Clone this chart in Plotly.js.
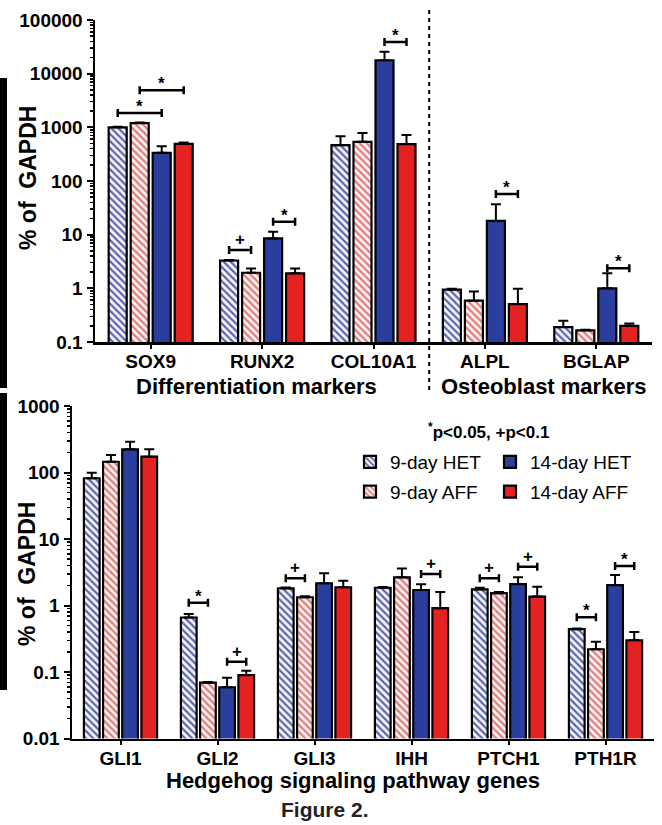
<!DOCTYPE html>
<html>
<head>
<meta charset="utf-8">
<script src="https://cdn.plot.ly/plotly-3.0.1.min.js"></script>
<style>html,body{margin:0;padding:0;background:#fff}#chart{width:662px;height:825px}</style>
</head>
<body>
<div id="chart"></div>
<script>
// ---------- DATA ----------
const seriesNames = ['9-day HET', '9-day AFF', '14-day HET', '14-day AFF'];

// Top panel
const topCats = ['SOX9', 'RUNX2', 'COL10A1', 'ALPL', 'BGLAP'];
const topHet9 = [1000, 3.3, 465, 0.95, 0.19];
const topHet9Err = [20, 0.08, 220, 0.03, 0.06];
const topAff9 = [1200, 1.95, 537, 0.59, 0.165];
const topAff9Err = [30, 0.4, 250, 0.28, 0.005];
const topHet14 = [335, 8.5, 17800, 18, 1.0];
const topHet14Err = [110, 2.8, 7700, 19, 0.9];
const topAff14 = [490, 1.9, 487, 0.51, 0.2];
const topAff14Err = [30, 0.45, 230, 0.47, 0.02];
const topTickVals = [0.1, 1, 10, 100, 1000, 10000, 100000];
const topTickText = ['0.1', '1', '10', '100', '1000', '10000', '100000'];
// significance brackets: group, bar from, bar to, height, mark
const topBrGroup = [0, 0, 1, 1, 2, 3, 4];
const topBrFrom = [0, 1, 0, 2, 2, 2, 2];
const topBrTo = [2, 3, 1, 3, 3, 3, 3];
const topBrY = [1850, 4900, 5.2, 17.4, 39000, 57, 2.36];
const topBrMark = ['*', '*', '+', '*', '*', '*', '*'];

// Bottom panel
const botCats = ['GLI1', 'GLI2', 'GLI3', 'IHH', 'PTCH1', 'PTH1R'];
const botHet9 = [82, 0.66, 1.81, 1.85, 1.75, 0.44];
const botHet9Err = [17, 0.085, 0.05, 0.05, 0.1, 0.01];
const botAff9 = [145, 0.069, 1.33, 2.65, 1.53, 0.22];
const botAff9Err = [38, 0.002, 0.05, 0.95, 0.07, 0.065];
const botHet14 = [223, 0.059, 2.16, 1.71, 2.1, 2.03];
const botHet14Err = [67, 0.023, 0.89, 0.37, 0.55, 0.85];
const botAff14 = [173, 0.090, 1.88, 0.91, 1.36, 0.30];
const botAff14Err = [50, 0.014, 0.48, 0.69, 0.56, 0.10];
const botTickVals = [0.01, 0.1, 1, 10, 100, 1000];
const botTickText = ['0.01', '0.1', '1', '10', '100', '1000'];
const botBrGroup = [1, 1, 2, 3, 4, 4, 5, 5];
const botBrFrom = [0, 2, 0, 2, 0, 2, 0, 2];
const botBrTo = [1, 3, 1, 3, 1, 3, 1, 3];
const botBrY = [1.1, 0.143, 2.56, 2.98, 2.56, 3.83, 0.665, 3.93];
const botBrMark = ['*', '+', '+', '+', '+', '+', '*', '*'];

// ---------- STYLE ----------
const W = 662, H = 825;
const FONT = 'Liberation Sans, Arial, Helvetica, sans-serif';
const BARGAP = 0.21, BARGROUPGAP = 0.18;
const styles = [
  {color: '#5963ae', pattern: {shape: '\\', fgcolor: '#5963ae', bgcolor: '#f3f3fa', size: 5, solidity: 0.42}},
  {color: '#e07b78', pattern: {shape: '\\', fgcolor: '#e07b78', bgcolor: '#fbf1f0', size: 5, solidity: 0.42}},
  {color: '#2a3f9d'},
  {color: '#e52222'}
];
const px = v => v / W;
const py = v => 1 - v / H;

function barTraces(cats, vals, errs, xa, ya, legendOn) {
  return vals.map((v, k) => {
    const m = Object.assign({}, styles[k], {line: {color: 'black', width: 2.2}});
    return {
      type: 'bar', name: seriesNames[k], x: cats.map((c, i) => i), y: v,
      xaxis: xa, yaxis: ya, marker: m,
      error_y: {type: 'data', symmetric: false, array: errs[k], arrayminus: errs[k].map(() => 0),
                color: 'black', thickness: 2, width: 5},
      showlegend: legendOn, legend: k < 2 ? 'legend' : 'legend2', legendgroup: 'g' + k,
      hoverinfo: 'skip'
    };
  });
}

function barCenter(i, k) {
  return i + (k - 1.5) * (1 - BARGAP) / 4;
}

function bracketTrace(groups, from, to, ys, xa, ya, capPx, pxPerDecade) {
  const c = Math.pow(10, capPx / pxPerDecade);
  const X = [], Y = [];
  groups.forEach((g, j) => {
    const xa0 = barCenter(g, from[j]), xb0 = barCenter(g, to[j]), y = ys[j];
    X.push(xa0, xa0, xa0, xb0, xb0, xb0, null);
    Y.push(y * c, y / c, y, y, y * c, y / c, null);
  });
  return {type: 'scatter', mode: 'lines', x: X, y: Y, xaxis: xa, yaxis: ya,
          line: {color: 'black', width: 2.5}, showlegend: false, hoverinfo: 'skip'};
}

function bracketMarks(groups, from, to, ys, marks, xref, yref) {
  return groups.map((g, j) => ({
    xref: xref, yref: yref, x: (barCenter(g, from[j]) + barCenter(g, to[j])) / 2,
    y: Math.log10(ys[j]), text: marks[j], showarrow: false, xanchor: 'center', yanchor: 'bottom',
    yshift: marks[j] === '*' ? -5 : -1,
    font: {family: FONT, size: 17, color: 'black', weight: 'bold'}
  }));
}

const traces = []
  .concat(barTraces(topCats, [topHet9, topAff9, topHet14, topAff14],
                    [topHet9Err, topAff9Err, topHet14Err, topAff14Err], 'x', 'y', false))
  .concat(barTraces(botCats, [botHet9, botAff9, botHet14, botAff14],
                    [botHet9Err, botAff9Err, botHet14Err, botAff14Err], 'x2', 'y2', true))
  .concat([bracketTrace(topBrGroup, topBrFrom, topBrTo, topBrY, 'x', 'y', 4, 53.7),
           bracketTrace(botBrGroup, botBrFrom, botBrTo, botBrY, 'x2', 'y2', 4, 66.5)]);

const tickFont = {family: FONT, size: 19, color: 'black', weight: 'bold'};
const xBase = {type: 'linear', showline: true, linecolor: 'black', linewidth: 2.5, ticks: 'outside',
               ticklen: 4, tickwidth: 2, tickcolor: 'black', showgrid: false, zeroline: false,
               tickfont: tickFont, fixedrange: true, ticklabelstandoff: -3};
const yBase = {type: 'log', showline: true, linecolor: 'black', linewidth: 2.5, ticks: 'outside',
               ticklen: 6, tickwidth: 2, tickcolor: 'black', showgrid: false, zeroline: false,
               tickfont: tickFont, fixedrange: true, tickmode: 'array',
               minor: {ticks: 'outside', ticklen: 3, tickwidth: 1.5, tickcolor: 'black', dtick: 'D1', showgrid: false}};

const titleFont = {family: FONT, size: 22, color: 'black', weight: 'bold'};
function paperText(x, y, text, font, angle) {
  return {xref: 'paper', yref: 'paper', x: px(x), y: py(y), text: text, showarrow: false,
          xanchor: 'center', yanchor: 'middle', textangle: angle || 0, font: font};
}
const yTitleFont = {family: FONT, size: 23, color: 'black', weight: 'bold'};
const annotations = [
  paperText(28, 178, '% of  GAPDH', yTitleFont, -90),
  paperText(27, 574, '% of  GAPDH', yTitleFont, -90),
  paperText(256, 386, 'Differentiation markers', titleFont),
  paperText(543, 386, 'Osteoblast markers', titleFont),
  paperText(353, 780, 'Hedgehog signaling pathway genes', titleFont),
  paperText(325, 809, 'Figure 2.', {family: 'Liberation Sans Narrow, Arial Narrow, ' + FONT, size: 21, color: '#222', weight: 'bold'}),
  paperText(488, 431, '<sup>*</sup>p&lt;0.05, +p&lt;0.1', {family: FONT, size: 17, color: 'black', weight: 'bold'})
].concat(bracketMarks(topBrGroup, topBrFrom, topBrTo, topBrY, topBrMark, 'x', 'y'))
 .concat(bracketMarks(botBrGroup, botBrFrom, botBrTo, botBrY, botBrMark, 'x2', 'y2'));

const shapes = [
  {type: 'line', xref: 'x', yref: 'paper', x0: 2.5, x1: 2.5, y0: py(390), y1: py(8),
   line: {color: 'black', width: 2, dash: '4px,4px'}},
  {type: 'rect', xref: 'paper', yref: 'paper', x0: 0, x1: px(7), y0: py(388), y1: py(78),
   fillcolor: 'black', line: {width: 0}},
  {type: 'rect', xref: 'paper', yref: 'paper', x0: 0, x1: px(7), y0: py(690), y1: py(393),
   fillcolor: 'black', line: {width: 0}}
];

const legendBase = {orientation: 'v', xanchor: 'left', yanchor: 'top', bgcolor: 'rgba(0,0,0,0)',
                    font: {family: FONT, size: 19, color: 'black'}, tracegroupgap: 2, itemclick: false,
                    itemdoubleclick: false};

const layout = {
  width: W, height: H, margin: {l: 0, r: 0, t: 0, b: 0},
  paper_bgcolor: 'white', plot_bgcolor: 'white',
  barmode: 'group', bargap: BARGAP, bargroupgap: BARGROUPGAP,
  showlegend: true,
  xaxis: Object.assign({}, xBase, {domain: [px(95), px(652)], anchor: 'y', range: [-0.5, topCats.length - 0.5],
                                   tickvals: topCats.map((c, i) => i), ticktext: topCats}),
  yaxis: Object.assign({}, yBase, {domain: [py(342), py(20)], anchor: 'x', range: [-1, 5],
                                   tickvals: topTickVals, ticktext: topTickText}),
  xaxis2: Object.assign({}, xBase, {domain: [px(72), px(654)], anchor: 'y2', range: [-0.5, botCats.length - 0.5],
                                    tickvals: botCats.map((c, i) => i), ticktext: botCats}),
  yaxis2: Object.assign({}, yBase, {domain: [py(738.5), py(406)], anchor: 'x2', range: [-2, 3],
                                    tickvals: botTickVals, ticktext: botTickText}),
  legend: Object.assign({}, legendBase, {x: px(350), y: py(443)}),
  legend2: Object.assign({}, legendBase, {x: px(490), y: py(443)}),
  annotations: annotations,
  shapes: shapes
};

Plotly.newPlot('chart', traces, layout, {displayModeBar: false, staticPlot: true});
</script>
</body>
</html>
